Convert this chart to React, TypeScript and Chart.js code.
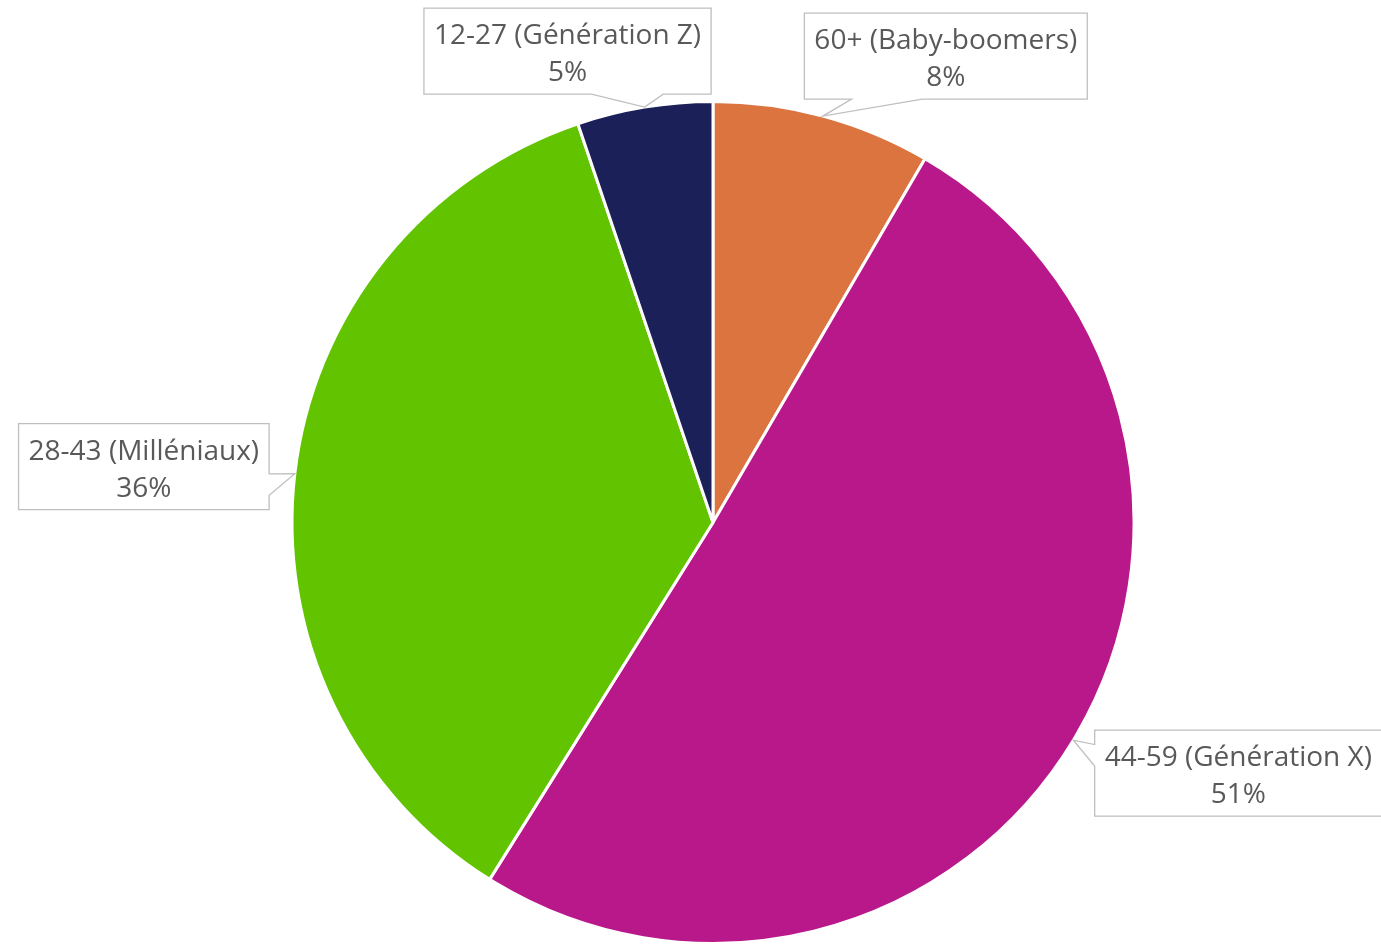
import React, { useEffect, useRef } from "react";
import { Chart, registerables } from "chart.js";

Chart.register(...registerables);

const categories = [
  "60+ (Baby-boomers)",
  "44-59 (Génération X)",
  "28-43 (Milléniaux)",
  "12-27 (Génération Z)",
];
const values = [8.4, 50.5, 35.9, 5.2];
const percentLabels = ["8%", "51%", "36%", "5%"];
const colors = ["#DB743E", "#B9188B", "#62C400", "#1C2058"];
// callout box centre offsets from the slice's outer mid-point (layout)
const calloutOffsets = [
  [123, -60],
  [165, 33],
  [-151, -7],
  [-77, -56],
];

const FONT = "28px 'Open Sans', 'Noto Sans', sans-serif";

const calloutPlugin = {
  id: "callouts",
  afterDraw(chart: any) {
    const ctx = chart.ctx as CanvasRenderingContext2D;
    const meta = chart.getDatasetMeta(0);
    ctx.save();
    ctx.font = FONT;
    meta.data.forEach((arc: any, i: number) => {
      const { x, y, startAngle, endAngle, outerRadius } = arc.getProps(
        ["x", "y", "startAngle", "endAngle", "outerRadius"],
        true
      );
      const mid = (startAngle + endAngle) / 2;
      const tx = x + Math.cos(mid) * outerRadius;
      const ty = y + Math.sin(mid) * outerRadius;
      const cx = tx + calloutOffsets[i][0];
      const cy = ty + calloutOffsets[i][1];
      const l1 = categories[i];
      const l2 = percentLabels[i];
      const tw = Math.max(ctx.measureText(l1).width, ctx.measureText(l2).width);
      const w = tw + 20;
      const h = 86;
      const L = cx - w / 2;
      const T = cy - h / 2;
      const R = L + w;
      const B = T + h;
      const dx = (tx - cx) / w;
      const dy = (ty - cy) / h;
      ctx.beginPath();
      ctx.moveTo(L, T);
      const horiz = Math.abs(dx) > Math.abs(dy);
      if (!horiz && dy < 0) {
        const a = dx > 0 ? 7 / 12 : 2 / 12;
        ctx.lineTo(L + w * a, T);
        ctx.lineTo(tx, ty);
        ctx.lineTo(L + w * (a + 3 / 12), T);
      }
      ctx.lineTo(R, T);
      if (horiz && dx > 0) {
        const a = dy > 0 ? 7 / 12 : 2 / 12;
        ctx.lineTo(R, T + h * a);
        ctx.lineTo(tx, ty);
        ctx.lineTo(R, T + h * (a + 3 / 12));
      }
      ctx.lineTo(R, B);
      if (!horiz && dy > 0) {
        const a = dx > 0 ? 7 / 12 : 2 / 12;
        ctx.lineTo(L + w * (a + 3 / 12), B);
        ctx.lineTo(tx, ty);
        ctx.lineTo(L + w * a, B);
      }
      ctx.lineTo(L, B);
      if (horiz && dx < 0) {
        const a = dy > 0 ? 7 / 12 : 2 / 12;
        ctx.lineTo(L, T + h * (a + 3 / 12));
        ctx.lineTo(tx, ty);
        ctx.lineTo(L, T + h * a);
      }
      ctx.closePath();
      ctx.fillStyle = "#FFFFFF";
      ctx.fill();
      ctx.strokeStyle = "#BFBFBF";
      ctx.lineWidth = 1.3;
      ctx.stroke();
      ctx.fillStyle = "#595959";
      ctx.textAlign = "center";
      ctx.textBaseline = "alphabetic";
      ctx.fillText(l1, cx, cy - 7);
      ctx.fillText(l2, cx, cy + 30);
    });
    ctx.restore();
  },
};

export default function App() {
  const ref = useRef<HTMLCanvasElement>(null);
  useEffect(() => {
    if (!ref.current) return;
    const chart = new Chart(ref.current, {
      type: "pie",
      data: {
        labels: categories,
        datasets: [
          {
            data: values,
            backgroundColor: colors,
            borderColor: "#FFFFFF",
            borderWidth: 3,
          },
        ],
      },
      options: {
        responsive: false,
        animation: false,
        layout: { padding: { top: 100, bottom: 0, left: 290.5, right: 245.5 } },
        plugins: {
          legend: { display: false },
          tooltip: { enabled: false },
        },
      },
      plugins: [calloutPlugin],
    });
    return () => chart.destroy();
  }, []);
  return (
    <div style={{ position: "absolute", left: 0, top: 0, width: 1381, height: 945, background: "#fff" }}>
      <canvas ref={ref} width={1381} height={945} />
    </div>
  );
}
